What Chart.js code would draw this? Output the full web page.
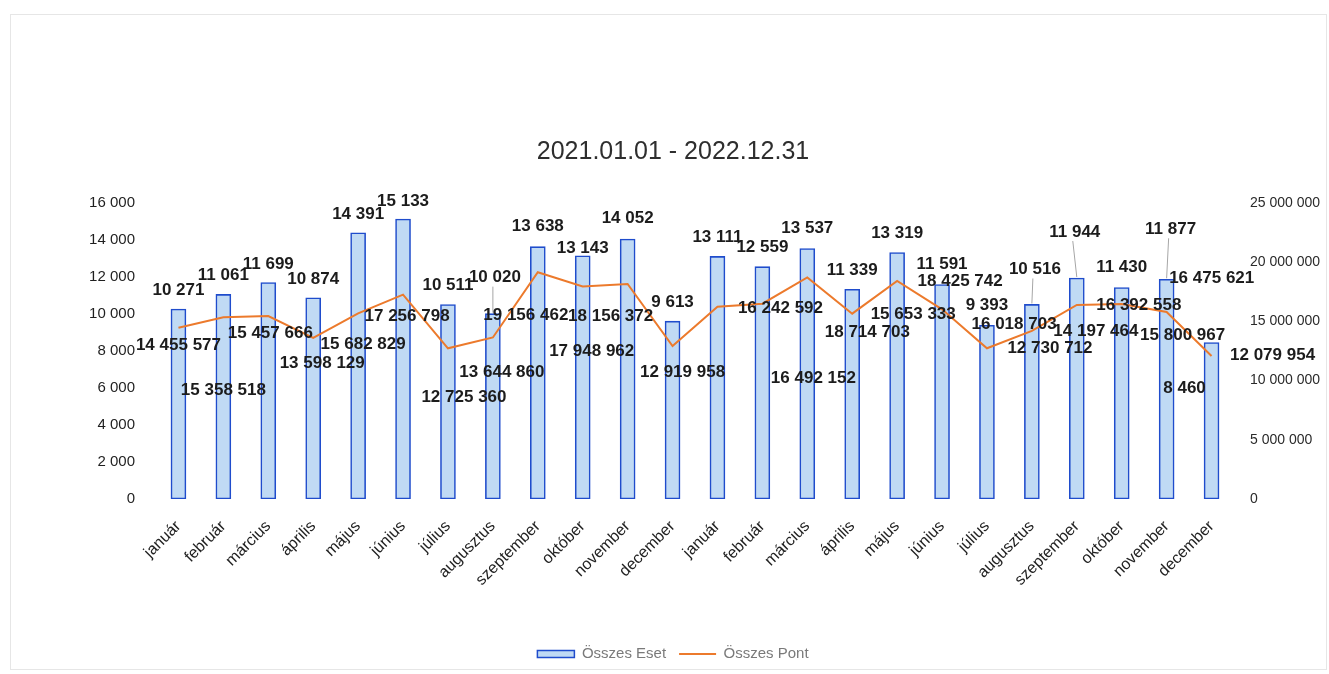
<!DOCTYPE html>
<html>
<head>
<meta charset="utf-8">
<script src="https://cdn.jsdelivr.net/npm/chart.js@4.4.1/dist/chart.umd.min.js"></script>
<style>
html,body{margin:0;padding:0;background:#fff;}
#wrap{position:relative;width:1329px;height:674px;overflow:hidden;}
#frame{position:absolute;left:10px;top:14px;width:1317px;height:656px;border:1px solid #e6e6e6;box-sizing:border-box;pointer-events:none;}
canvas{position:absolute;left:0;top:0;}
</style>
</head>
<body>
<div id="wrap"><canvas id="c" width="1329" height="674"></canvas><div id="frame"></div></div>
<script>
// ---- data ----
const months = ['január','február','március','április','május','június','július','augusztus','szeptember','október','november','december'];
const categories = months.concat(months);
const osszesEset = [10271, 11061, 11699, 10874, 14391, 15133, 10511, 10020, 13638, 13143, 14052, 9613,
                    13111, 12559, 13537, 11339, 13319, 11591, 9393, 10516, 11944, 11430, 11877, 8460];
const osszesPont = [14455577, 15358518, 15457666, 13598129, 15682829, 17256798, 12725360, 13644860, 19156462, 17948962, 18156372, 12919958,
                    16242592, 16492152, 18714703, 15653333, 18425742, 16018703, 12730712, 14197464, 16392558, 16475621, 15800967, 12079954];
const leftTicks = [0, 2000, 4000, 6000, 8000, 10000, 12000, 14000, 16000];
const rightTicks = [0, 5000000, 10000000, 15000000, 20000000, 25000000];

// ---- label placement (label centre relative to its mark) ----
const barLabelOffsets = [[0,-19],[0,-19],[0,-18],[0,-19],[0,-18],[0,-18],[0,-19],[2,-36],[0,-20],[0,-8],[0,-21],[0,-19],
                         [0,-19],[0,-19],[0,-20],[0,-19],[0,-19],[0,-20],[0,-20],[3,-35],[-2,-46],[0,-20],[4,-50],[-27,46]];
const barLeaders = [7, 19, 20, 22];
const pointLabelOffsets = [[0,17],[0,73],[2,17],[9,25],[5,31],[4,22],[16,49],[9,35],[-12,43],[9,65],[-17,32],[10,26],
                           [63,2],[51,75],[60,55],[61,1],[63,0],[72,15],[63,0],[64,0],[62,0],[90,-26],[16,23],[61,-1]];

function fmt(v){ return String(Math.round(v)).replace(/\B(?=(\d{3})+(?!\d))/g, ' '); }

const FONT = '"Liberation Sans", Arial, sans-serif';

const labelPlugin = {
  id: 'valueLabels',
  afterDatasetsDraw(chart) {
    const ctx = chart.ctx;
    ctx.save();
    ctx.font = 'bold 17px ' + FONT;
    ctx.textAlign = 'center';
    ctx.textBaseline = 'middle';
    const barMeta = chart.getDatasetMeta(0);
    barMeta.data.forEach((el, i) => {
      const [dx, dy] = barLabelOffsets[i];
      const x = el.x + dx, y = el.y + dy;
      if (barLeaders.includes(i)) {
        ctx.strokeStyle = '#a6a6a6'; ctx.lineWidth = 1;
        ctx.beginPath(); ctx.moveTo(x - 2, y + 9); ctx.lineTo(el.x, el.y - 1); ctx.stroke();
      }
      ctx.fillStyle = '#1c1c1c';
      ctx.fillText(fmt(osszesEset[i]), x, y);
    });
    const lineMeta = chart.getDatasetMeta(1);
    lineMeta.data.forEach((el, i) => {
      const [dx, dy] = pointLabelOffsets[i];
      ctx.fillStyle = '#1c1c1c';
      ctx.fillText(fmt(osszesPont[i]), el.x + dx, el.y + dy);
    });
    ctx.restore();
  }
};

new Chart(document.getElementById('c'), {
  data: {
    labels: categories,
    datasets: [
      {
        type: 'bar', label: 'Összes Eset', data: osszesEset, yAxisID: 'y', order: 1,
        backgroundColor: '#c0daf4', borderColor: '#1f4ccc', borderWidth: 1.6, borderSkipped: false,
        barThickness: 15
      },
      {
        type: 'line', label: 'Összes Pont', data: osszesPont, yAxisID: 'y1', order: 0,
        borderColor: '#ec7a2c', backgroundColor: '#ec7a2c', borderWidth: 2, pointRadius: 0, tension: 0, pointStyle: 'line'
      }
    ]
  },
  options: {
    responsive: false,
    animation: false,
    layout: { padding: { left: 17, right: 0, top: 10, bottom: 2.5 } },
    plugins: {
      tooltip: { enabled: false },
      title: {
        display: true, text: '2021.01.01 - 2022.12.31', color: '#2e2e2e',
        font: { family: FONT, size: 25, weight: 'normal' },
        padding: { top: 127, bottom: 36 }
      },
      legend: {
        position: 'bottom',
        labels: {
          usePointStyle: true, pointStyleWidth: 37, boxHeight: 7, padding: 13,
          color: '#7a7a7a', font: { family: FONT, size: 15 },
          generateLabels(chart) {
            return chart.data.datasets.map((ds, i) => ({
              text: ds.label,
              fillStyle: ds.backgroundColor,
              strokeStyle: ds.borderColor,
              lineWidth: i === 0 ? 1.5 : 2,
              pointStyle: i === 0 ? 'rect' : 'line',
              hidden: !chart.isDatasetVisible(i),
              datasetIndex: i,
              fontColor: '#7a7a7a'
            }));
          }
        }
      }
    },
    scales: {
      x: {
        grid: { display: false, drawTicks: false }, border: { display: false },
        ticks: { autoSkip: false, maxRotation: 45, minRotation: 45, padding: 18, color: '#222', font: { family: FONT, size: 16 } },
        afterFit(s) { s.height = 134.5; }
      },
      y: {
        position: 'left', min: 0, max: 16000,
        grid: { display: false, drawTicks: false }, border: { display: false },
        afterBuildTicks(s) { s.ticks = leftTicks.map(v => ({ value: v })); },
        ticks: { padding: 21, color: '#1f1f1f', font: { family: FONT, size: 15 }, callback: v => fmt(v) },
        afterFit(s) { s.width = 139; }
      },
      y1: {
        position: 'right', min: 0, max: 25000000,
        grid: { display: false, drawTicks: false }, border: { display: false },
        afterBuildTicks(s) { s.ticks = rightTicks.map(v => ({ value: v })); },
        ticks: { padding: 16, color: '#2a2a2a', font: { family: FONT, size: 14 }, callback: v => fmt(v) },
        afterFit(s) { s.width = 95; }
      }
    }
  },
  plugins: [labelPlugin]
});
</script>
</body>
</html>
